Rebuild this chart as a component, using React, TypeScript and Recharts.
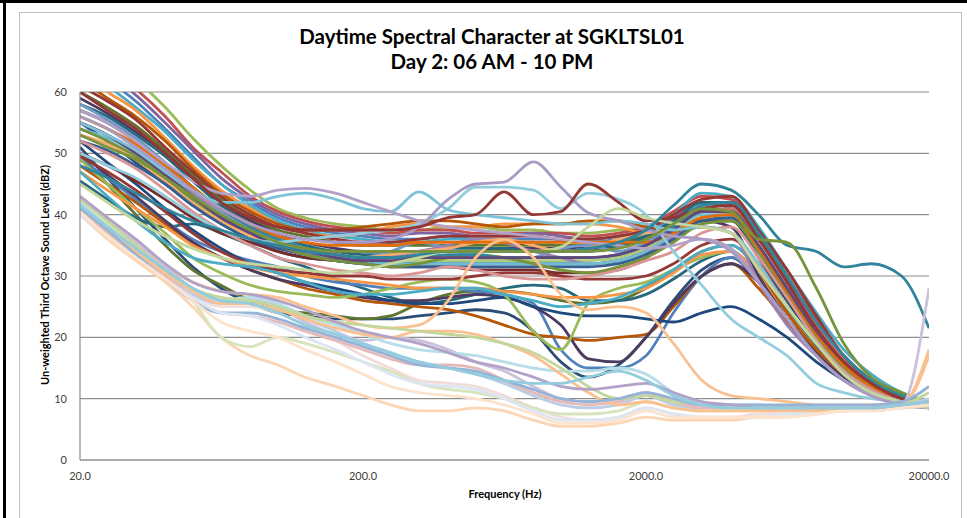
import { LineChart, Line, XAxis, YAxis, CartesianGrid } from "recharts";

// third-octave band centres, 20 Hz .. 20 kHz
const FREQS = [
  20, 25, 31.5, 40, 50, 63, 80, 100, 125, 160, 200, 250, 315, 400, 500, 630, 800, 1000, 1250, 1600, 2000,
  2500, 3150, 4000, 5000, 6300, 8000, 10000, 12500, 16000, 20000,
];
const X_TICKS = [20, 200, 2000, 20000];
const Y_TICKS = [0, 10, 20, 30, 40, 50, 60];

// mid / darker group
const M01 = [51,46,41,36,31.5,28,25.5,24,23.5,23, 23,23,23.5,24,24.5,24,21,16,13.5,15.5, 20,26,31,33,29,23,17.5,13.5,11,9.5,8.5];
const M02 = [50,45,40,35,31,28.5,26,24.5,24,23.5, 23,23.5,25.5,27,27.5,27.5,27,26,25.5,26, 28,31,34,35,31,25,19,14,11,9.5,8.5];
const M03 = [45.5,42.5,39.5,38,38.5,37,35,33,31.5,29.5, 28,26.5,25.5,26,27,28,28.5,28,26,26, 27,29.5,32.5,34,30,24.5,18.5,14,11,9.5,8.5];
const M04 = [49,46,42.5,39,36,34,32.5,31.5,30,29, 28.5,28,28,28,27.5,27,25.5,18,15,15, 17,24,30,33,30,24,18,14,11,9.5,8.5];
const M05 = [48,45,42,38.5,35.5,33,31,29.5,28,27, 26,25.5,25,24.5,23.5,22,20.5,20,19.5,20, 20.5,25,30,32,28,22.5,17.5,13.5,11,9.5,8.5];
const M06 = [50,46.5,43,39,35.5,33,31,29.5,28.5,27.5, 26.5,26,26,26.5,27,26.5,25,22,16.5,16, 20,25.5,30,32,29,24,18,14,11,9.5,8.5];
const M07 = [52,48.5,45,41,37.5,34.5,32,30.5,29,28, 27,26,25.5,25.5,26,26.5,25,24,23.5,23.5, 23,22.5,24,25,23,20,16,13,10.5,9.5,8.5];
const M08 = [49,45,41,37,33,30.5,28.5,27.5,27,26.5, 27,28,29,29.5,29,27,21,18,25.5,28, 29,31,33,34,30,24,18,13.5,11,9.5,8.5];
const M09 = [49.5,47,44,40.5,37,34,32,31,30.5,30, 30,29.5,29.5,29.5,30,30.5,30.5,30,29.5,29.5, 30,32,35,36,32,26,19.5,14.5,11.5,10,9];
const M10 = [47,44,41,38,35,33,31.5,30.5,30,29.5, 29,28.5,28,28,28,27.5,27,26.5,26.5,27, 28,30.5,33.5,34,30,24,18,13.5,11,9.5,8.5];
const M11 = [47,43,39,35.5,33,32,31.5,30.5,29,27.5, 27,27,27.5,28,28,27,26,25,25.5,26.5, 28.5,31,34,35,31,25,19,14,11,9.5,8.5];

// upper main bundle
const U01 = [68,65,62,57.5,52.5,48,44,41,39.5,38.5, 38,37.5,37.5,38,38,37.5,37.5,37,37,37.5, 38,40,42,41,34,27,20,15,12,10,9];
const U02 = [67,64,60.5,56,51,47,43,40.5,39,38, 37.5,37,37.5,37.5,37,37,37,37,36.5,37, 38,40.5,43,42.5,37,31,23,17,13,10.5,9.5];
const U03 = [66,63,59.5,55,50.5,46,42.5,40,38.5,37.5, 37,36.5,37,37,36.5,36.5,37,36.5,36,36.5, 37.5,39.5,42,41,35,28,21,15.5,12,10,9];
const U04 = [65,62,58.5,54,49.5,45,42,39.5,38,37, 36.5,36,36,36.5,36,36,36,36,35.5,36, 37,39,41.5,42,36,29,21,16,12.5,10.5,9];
const U05 = [64,61,57.5,53.5,49,45,41.5,39,37.5,36.5, 36,35.5,35.5,36,36,35.5,35.5,35,35,36, 37.5,40,43.5,43,38,31,24,18,14,11,9.5];
const U06 = [63,60,57,52.5,48,44,41,38.5,37,36.5, 37,38,38.5,38,38,38.5,38.5,38.5,38.5,38, 37,37.5,39,39,33,26,19,14.5,11.5,9.5,9];
const U07 = [55,52,48.5,45,41.5,38.5,36,34,33,32.5, 32,32,32,32,32,32,32,32,32,32.5, 34,36.5,39,39,33,26,19,14,11.5,9.5,8.5];
const U08 = [50,48,45.5,42.5,39.5,37,35.5,34,33,32.5, 32,31.5,31.5,31.5,31,31,31,30.5,30.5,31, 33,36,39.5,40,34.5,27.5,20.5,15,12,10,9];
const U09 = [60,57.5,54.5,50.5,46.5,42.5,39.5,37.5,36.5,35.5, 35,35,35,35,35,35,35,35,35,35.5, 36.5,38.5,41,41.5,36.5,29.5,22,16.5,12.5,10,9];
const U10 = [59,56.5,53.5,50,46,42,39,37,35.5,34.5, 34,34,34,34,34,34.5,34.5,34.5,34.5,35, 36,38,39,38,30,23,17.5,13.5,11,9.5,8.5];
const U11 = [58,56,53,49.5,45.5,41.5,38.5,36.5,35,34, 33.5,33.5,34,34.5,34.5,34.5,34,34,34,35, 36.5,39,42,42,37,30,22,17,13,10.5,9];
const U12 = [62,59,56,52,47.5,43.5,40.5,38.5,37.5,37.5, 38,38.5,39,39,38.5,38,38.5,38.5,39,39, 38,37.5,38,37,31,24,18,14,11,9.5,8.5];
const U13 = [58,55.5,52.5,48.5,44.5,40.5,38,36,34.5,33.5, 33,34,35.5,34.5,33,32.5,33,34.5,35,34, 35.5,38,40.5,40.5,35,28,21,16,12.5,10,9];
const U14 = [57,55,52,48,44,40,37.5,35.5,34.5,33.5, 33,33,33,33,33,33,33,33,33,33.5, 35,37.5,40.5,41,36,29,22,16.5,12.5,10,9];
const U15 = [56,54,51,47.5,43.5,40,37.5,35.5,34,33, 32.5,32.5,32.5,32.5,32.5,32.5,32.5,32.5,32.5,33, 34.5,37,39.5,39.5,34,27,20,15,12,10,9];
const U16 = [55,53,50.5,47,43.5,40,37.5,35.5,34,33, 32.5,33,34,35,36,35.5,34,33,32,32.5, 34,36.5,38,37,29,22,17,13,11,9.5,8.5];
const U17 = [54,52.5,50,46.5,43,40,37.5,35.5,34,33, 32,32,32,32,32,32,32,32,32,32.5, 34,37,40,40,34.5,27.5,20,15,12,10,9];
const U18 = [53,51.5,49,45.5,42,39,36.5,35,34,33.5, 33,33.5,34,34.5,35.5,36,35,34,34.5,36, 37,37.5,38,37,31.5,25,19,14,11,9.5,8.5];
const U19 = [52,50.5,48,45,41.5,38.5,36,34.5,33.5,32.5, 32,31.5,31.5,31.5,31.5,31.5,31.5,31.5,31.5,32, 33.5,36,39,39.5,34,27,20,15,12,9.5,8.5];
const U20 = [61,58.5,55.5,51,47,43,40,38,37,36, 35.5,35.5,36,36.5,36.5,36.5,36.5,36,36,36.5, 37.5,40,42.5,43,37.5,31,23.5,17,13,10.5,9];
const U21 = [53,51,49,46,42.5,39.5,37,35,33.5,32.5, 32,31.5,32,33,33.5,33,32,31,30.5,31.5, 33,35.5,38.5,39,34,27,20,15,12,10,9];
const U22 = [57,55,52,48.5,44.5,41,38,36,34.5,33.5, 33,33,33,33.5,33.5,33,33,33,33,33.5, 35,38,41.5,42,37,30,22.5,17,13,10.5,9];
const U23 = [56,54,51.5,48,44.5,41,38.5,36.5,35.5,35, 35,35,35.5,35.5,35.5,35.5,35.5,35.5,35.5,35.5, 35.5,37,39.5,40,34.5,27.5,20.5,15.5,12,10,9];
const U24 = [55,53,50,46.5,43,39.5,37,35,34,33, 32.5,32.5,33,33,33,33,33,33,33,33.5, 35,37.5,40.5,40.5,35,28,21,16,12.5,10,9];
const U25 = [52,50,47.5,44,40.5,37.5,35,33,32,31, 30.5,30,30.5,31.5,31,30,29.5,29.5,30,31, 32.5,34,37,38,33,26.5,19.5,14.5,11.5,9.5,8.5];

// lines that stand out
const S01 = [50,48,46,43,40,37.5,36,35.5,36,36.5, 37,37.5,38.5,41,44.5,44.5,44,41,43.5,42.5, 40,34,28.5,23,20,17,12.5,11,10,9.5,9];
const S02 = [55,53,50.5,47,44,42,42,43,43.5,42.5, 41,40.5,43.7,40.8,40,39.5,39,38.5,38.5,39, 38.5,37.5,38,37,32,25,19,14,11,9.5,8.5];
const S03 = [57,55,52,48.5,45.5,43.5,43,44,44.3,43.5, 42,40.5,39,38,37.5,37,36.5,36,35.5,35, 34.5,35,36,34.5,29,23,17,13,10.5,9,8.5];
const S04 = [56,54,51,47.5,44,41,38.5,37,36,35.5, 35.5,36,38,42.5,45,45.3,48.6,44.5,40.3,39, 37.5,36.5,36,34,29,23,17,13,10.5,9,8.5];
const S05 = [60,57,54,50,46,42,39.5,38,37.5,37.5, 37.5,37.5,38,39.5,40,43.7,40,40.5,45,42, 39,39.5,41,41.5,36,29,21.5,16,12.5,10,9];
const S06 = [45,42,39,36.5,34.5,33,32,31.5,31,30.5, 31,32,33,34,34,34,34,34.7,38,41, 39.5,38.6,38,37,31,25,19,14,11,9.5,8.5];
const S07 = [48,46,43.5,41,39,37.5,36,35,34,33.5, 33,33,33.5,34,34,34,34,34,34.5,35.5, 37.5,41.5,45,44,40,35,34,31.5,32,30,21.5];
const S08 = [54,52,49.5,46,43,40,37.5,35.5,34.5,34, 34,34,34,34,34,34,34,34,34,34.5, 36,38.5,41,40.5,36,35.5,28,19,13.5,11,9.5];
const P01 = [43,39,35,31.5,29,27.5,27,26.5,25,23.5, 22,21.5,22,26,33,35.9,33,27,24.5,25, 24,19,13,10.5,10,9.5,9,9,9,9,17];

// quiet pastel group
const L01 = [40,36,32.5,29,25,20,17,15.5,13.5,12, 10.5,9,8,8,8.5,8,6.5,5.5,5.5,6, 7,6.5,6.5,6.5,7,7,7.5,8,8.5,8.5,9];
const L02 = [41,37,33.5,30,27,25,25,24,22,19.5, 17,15,13,12.5,12,10.5,8.5,7,6.5,7, 8.5,7.5,7,7,7.5,7.5,8,8,8.5,8.5,9];
const L03 = [42,38.5,34.5,30.5,26,20,18.5,20,19,17.5, 16,14.5,12.5,11.5,11,10,8.5,7.5,7.5,8, 9.5,8.5,8,8,8,8,8,8.5,8.5,9,9.5];
const L04 = [41.5,38,34,30,27,25.5,26,25,23,21, 19,17.5,16,15,14,12.5,10.5,9,8.5,9, 10.5,9,8.5,8.5,8.5,8.5,8.5,8.5,8.5,9,10];
const L05 = [43,39.5,35.5,31.5,28,26,26.5,25,22.5,20.5, 19.5,20,19.5,18,16,14.5,12,10,9.5,10, 11,9.5,9,9,9,8.5,8.5,8.5,8.5,9,28];
const L06 = [42,38,34,30.5,27.5,26,26.5,25.5,23.5,22, 20.5,19,18,17.5,17,16,15,14.5,14.5,15, 14,11,9,8.5,8.5,8.5,8.5,8.5,8.5,8.5,9.5];
const L07 = [40.5,37,33.5,30,26.5,24,23.5,22.5,21,19.5, 18,16.5,15.5,15.5,15,13,11,9.5,9,9.5, 11,9.5,8.5,8.5,8.5,8.5,8,8,8.5,8.5,9];
const L08 = [41,37.5,34,30.5,27.5,25.5,25.5,24.5,23,21.5, 20.5,20,21,21,20.5,19,17,14,11,9, 9.5,8.5,8,8,8,8,8,8.5,8.5,9,18];
const L09 = [42.5,39,35,31,28,26.5,26,25,23.5,22.5, 22,21.5,21,20.5,20,19,17.5,15,12,10, 10.5,9.5,9,8.5,8.5,8.5,8.5,8.5,8.5,9,11];
const L10 = [41,37.5,33.5,29.5,26,24,24,23,21.5,20, 18.5,17,15.5,15,14.5,13,11.5,10,9.5,10, 11,10,9,9,9,9,9,9,9,9.5,12];
const L11 = [40,36.5,33,29.5,26.5,24,23.5,22,20,18, 16,14,12.5,12,11.5,10,8,6.5,6.5,7, 8.5,7.5,7,7,7,7.5,7.5,8,8,8.5,9];
const L12 = [40.5,36.5,33,29.5,26,22.5,21,20,18,16, 14,12,11,10.5,10,9,7.5,6,6,6.5, 8,7,7,7,7,7,7.5,8,8,8.5,9];
const L13 = [43,39.5,36,32,29,27.5,27,26,24.5,22.5, 21,20,19,17.5,16,15,13.5,12,11.5,12, 12.5,11,9.5,9,8.5,8.5,8.5,8.5,8.5,9,9.5];
const L14 = [41.5,38,34.5,31,28,26,25.5,24,22,20.5, 19,17.5,16,15,14,13,12.5,12.5,13.5,14.5, 13,10.5,9,8.5,8.5,8.5,8.5,8.5,8.5,9,9.5];

const SERIES = [
  { key: "m01", color: "#2C4D75", values: M01 },
  { key: "m02", color: "#5F7530", values: M02 },
  { key: "m03", color: "#276A7C", values: M03 },
  { key: "m04", color: "#4F81BD", values: M04 },
  { key: "m05", color: "#B65708", values: M05 },
  { key: "m06", color: "#4D3B62", values: M06 },
  { key: "m07", color: "#1F497D", values: M07 },
  { key: "m08", color: "#9BBB59", values: M08 },
  { key: "m09", color: "#953735", values: M09 },
  { key: "m10", color: "#F79646", values: M10 },
  { key: "m11", color: "#4BACC6", values: M11 },
  { key: "u01", color: "#9BBB59", values: U01 },
  { key: "u02", color: "#C0504D", values: U02 },
  { key: "u03", color: "#8064A2", values: U03 },
  { key: "u04", color: "#4F81BD", values: U04 },
  { key: "u05", color: "#4BACC6", values: U05 },
  { key: "u06", color: "#F79646", values: U06 },
  { key: "u07", color: "#2C4D75", values: U07 },
  { key: "u08", color: "#772C2A", values: U08 },
  { key: "u09", color: "#5F7530", values: U09 },
  { key: "u10", color: "#4D3B62", values: U10 },
  { key: "u11", color: "#276A7C", values: U11 },
  { key: "u12", color: "#B65708", values: U12 },
  { key: "u13", color: "#729ACA", values: U13 },
  { key: "u14", color: "#CD7371", values: U14 },
  { key: "u15", color: "#AFC97A", values: U15 },
  { key: "u16", color: "#9983B5", values: U16 },
  { key: "u17", color: "#6FBDD1", values: U17 },
  { key: "u18", color: "#F9AB6B", values: U18 },
  { key: "u19", color: "#376092", values: U19 },
  { key: "u20", color: "#953735", values: U20 },
  { key: "u21", color: "#77933C", values: U21 },
  { key: "u22", color: "#31859C", values: U22 },
  { key: "u23", color: "#E46C0A", values: U23 },
  { key: "u24", color: "#60497A", values: U24 },
  { key: "u25", color: "#D99694", values: U25 },
  { key: "s01", color: "#93CDDD", values: S01 },
  { key: "s02", color: "#7CC3D7", values: S02 },
  { key: "s03", color: "#B3A2C7", values: S03 },
  { key: "s04", color: "#A99BC6", values: S04 },
  { key: "s05", color: "#943634", values: S05 },
  { key: "s06", color: "#C3D69B", values: S06 },
  { key: "s07", color: "#31849B", values: S07 },
  { key: "s08", color: "#77933C", values: S08 },
  { key: "p01", color: "#FAC090", values: P01 },
  { key: "l01", color: "#FCD5B5", values: L01 },
  { key: "l02", color: "#F2DCDB", values: L02 },
  { key: "l03", color: "#D7E4BD", values: L03 },
  { key: "l04", color: "#B9CDE5", values: L04 },
  { key: "l05", color: "#CCC1DA", values: L05 },
  { key: "l06", color: "#B7DEE8", values: L06 },
  { key: "l07", color: "#E6B9B8", values: L07 },
  { key: "l08", color: "#FAC090", values: L08 },
  { key: "l09", color: "#C3D69B", values: L09 },
  { key: "l10", color: "#95B3D7", values: L10 },
  { key: "l11", color: "#DCE6F2", values: L11 },
  { key: "l12", color: "#FDE2CC", values: L12 },
  { key: "l13", color: "#B3A2C7", values: L13 },
  { key: "l14", color: "#93CDDD", values: L14 },
];

const data = FREQS.map((f, i) => {
  const row: any = { f };
  SERIES.forEach((s) => {
    row[s.key] = s.values[i];
  });
  return row;
});

const FONT = "Lato, 'Open Sans', sans-serif";

const App = () => {
  return (
    <div
      style={{
        position: "absolute",
        left: 0,
        top: 0,
        width: 967,
        height: 518,
        background: "#fff",
        overflow: "hidden",
        fontFamily: FONT,
      }}
    >
      <div style={{ position: "absolute", left: 0, top: 0, width: 967, height: 3, background: "#000" }} />
      <div style={{ position: "absolute", left: 3, top: 0, width: 3, height: 518, background: "#000" }} />
      <div
        style={{
          position: "absolute",
          left: 19,
          top: 12,
          width: 941,
          height: 520,
          border: "1px solid #BFBFBF",
        }}
      />
      <div
        style={{
          position: "absolute",
          left: 0,
          width: 984,
          top: 24,
          textAlign: "center",
          fontWeight: 700,
          fontSize: 20.5,
          lineHeight: "25px",
          color: "#000",
        }}
      >
        <div>Daytime Spectral Character at SGKLTSL01</div>
        <div>Day 2: 06 AM - 10 PM</div>
      </div>
      <LineChart
        width={967}
        height={518}
        data={data}
        margin={{ top: 92, right: 38, bottom: 28, left: 20 }}
        style={{ position: "absolute", left: 0, top: 0 }}
      >
        <CartesianGrid vertical={false} stroke="#8E8E8E" strokeWidth={1.2} />
        <XAxis
          dataKey="f"
          type="number"
          scale="log"
          domain={[20, 20000]}
          ticks={X_TICKS}
          allowDataOverflow
          tickFormatter={(v: number) => v.toFixed(1)}
          axisLine={{ stroke: "#8E8E8E", strokeWidth: 1.2 }}
          tickLine={false}
          tickMargin={6}
          height={30}
          tick={{ fontSize: 11, fill: "#404040", fontFamily: FONT }}
        />
        <YAxis
          domain={[0, 60]}
          ticks={Y_TICKS}
          allowDataOverflow
          width={60}
          axisLine={{ stroke: "#8E8E8E", strokeWidth: 1.2 }}
          tickLine={false}
          tickMargin={7}
          tick={{ fontSize: 11, fill: "#404040", fontFamily: FONT }}
        />
        {SERIES.map((s) => (
          <Line
            key={s.key}
            dataKey={s.key}
            stroke={s.color}
            strokeWidth={2.8}
            type="monotone"
            dot={false}
            activeDot={false}
            isAnimationActive={false}
          />
        ))}
      </LineChart>
      <div
        style={{
          position: "absolute",
          left: 405,
          width: 200,
          top: 487,
          textAlign: "center",
          fontWeight: 700,
          fontSize: 11,
          color: "#000",
        }}
      >
        Frequency (Hz)
      </div>
      <div
        style={{
          position: "absolute",
          left: 45 - 150,
          top: 275 - 8,
          width: 300,
          textAlign: "center",
          fontWeight: 700,
          fontSize: 11,
          lineHeight: "16px",
          color: "#000",
          transform: "rotate(-90deg)",
        }}
      >
        Un-weighted Third Octave Sound Level (dBZ)
      </div>
    </div>
  );
};

export default App;
